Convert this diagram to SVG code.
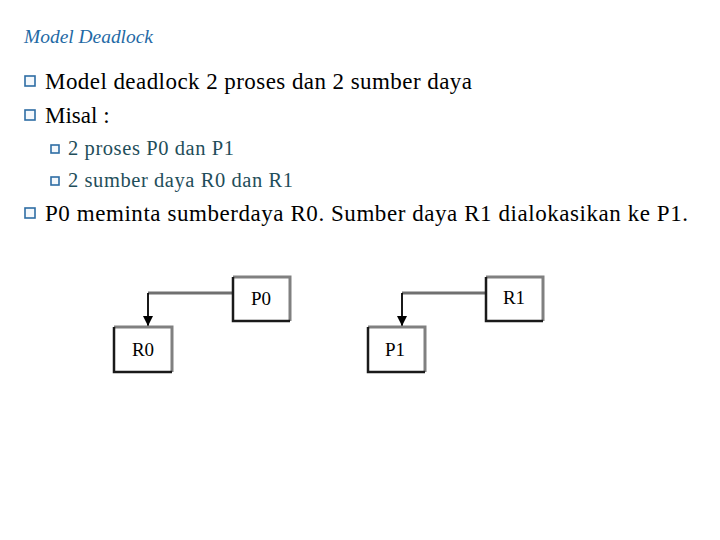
<svg xmlns="http://www.w3.org/2000/svg" width="720" height="540" viewBox="0 0 720 540">
<defs>
<style>
.main{font-family:"Liberation Serif",serif;font-size:23px;fill:#000}
.sub{font-family:"Liberation Serif",serif;font-size:20.5px;fill:#1f4e5a}
.title{font-family:"Liberation Serif",serif;font-style:italic;font-size:19px;fill:#1f6aa5}
.bul{fill:#f4f8fc;stroke:#2e6da4;stroke-width:1.6}
.lbl{font-family:"Liberation Serif",serif;font-size:19px;fill:#000;text-anchor:middle}
.edge{fill:none;stroke:#707070;stroke-width:3}
.drop{fill:none;stroke:#000;stroke-width:1.8}
.bt{fill:none;stroke:#808080;stroke-width:3}
.bd{fill:none;stroke:#1a1a1a;stroke-width:2.5}
</style>
<marker id="ah" viewBox="0 0 10 10" refX="10" refY="5" markerWidth="11" markerHeight="10" markerUnits="userSpaceOnUse" orient="auto"><path d="M0,0 L10,5 L0,10 z" fill="#000"/></marker>
</defs>
<rect width="720" height="540" fill="#fff"/>
<text class="title" x="24" y="43" textLength="129" lengthAdjust="spacingAndGlyphs">Model Deadlock</text>
<g id="bullets">
<rect class="bul" x="25" y="76" width="10" height="10"/>
<rect class="bul" x="25" y="110" width="10" height="10"/>
<rect class="bul" x="51" y="145" width="8" height="8"/>
<rect class="bul" x="51" y="177" width="8" height="8"/>
<rect class="bul" x="25" y="208" width="10" height="10"/>
</g>
<text class="main" x="45" y="89" textLength="427" lengthAdjust="spacing">Model deadlock 2 proses dan 2 sumber daya</text>
<text class="main" x="45" y="123">Misal :</text>
<text class="sub" x="68" y="155" textLength="166" lengthAdjust="spacing">2 proses P0 dan P1</text>
<text class="sub" x="68" y="187" textLength="225" lengthAdjust="spacing">2 sumber daya R0 dan R1</text>
<text class="main" x="45" y="221" textLength="643" lengthAdjust="spacing">P0 meminta sumberdaya R0. Sumber daya  R1 dialokasikan ke P1.</text>
<g id="connectors">
<path class="edge" d="M233,293 H148"/>
<path class="drop" d="M148,293 V326" marker-end="url(#ah)"/>
<path class="edge" d="M486,293 H402"/>
<path class="drop" d="M402,293 V326" stroke-width="2.4" marker-end="url(#ah)"/>
</g>
<g id="P0">
<rect x="233" y="277" width="57" height="44" fill="#fff"/>
<path class="bt" d="M233,277 H290 V321"/><path class="bd" d="M233,277 V321 H290"/>
<text class="lbl" x="261" y="305">P0</text>
</g>
<g id="R0">
<rect x="114" y="327" width="58" height="45" fill="#fff"/>
<path class="bt" d="M114,327 H172 V372"/><path class="bd" d="M114,327 V372 H172"/>
<text class="lbl" x="143" y="356">R0</text>
</g>
<g id="R1">
<rect x="486" y="277" width="57" height="44" fill="#fff"/>
<path class="bt" d="M486,277 H543 V321"/><path class="bd" d="M486,277 V321 H543"/>
<text class="lbl" x="514" y="304">R1</text>
</g>
<g id="P1">
<rect x="368" y="327" width="57" height="45" fill="#fff"/>
<path class="bt" d="M368,327 H425 V372"/><path class="bd" d="M368,327 V372 H425"/>
<text class="lbl" x="395" y="356">P1</text>
</g>
</svg>
